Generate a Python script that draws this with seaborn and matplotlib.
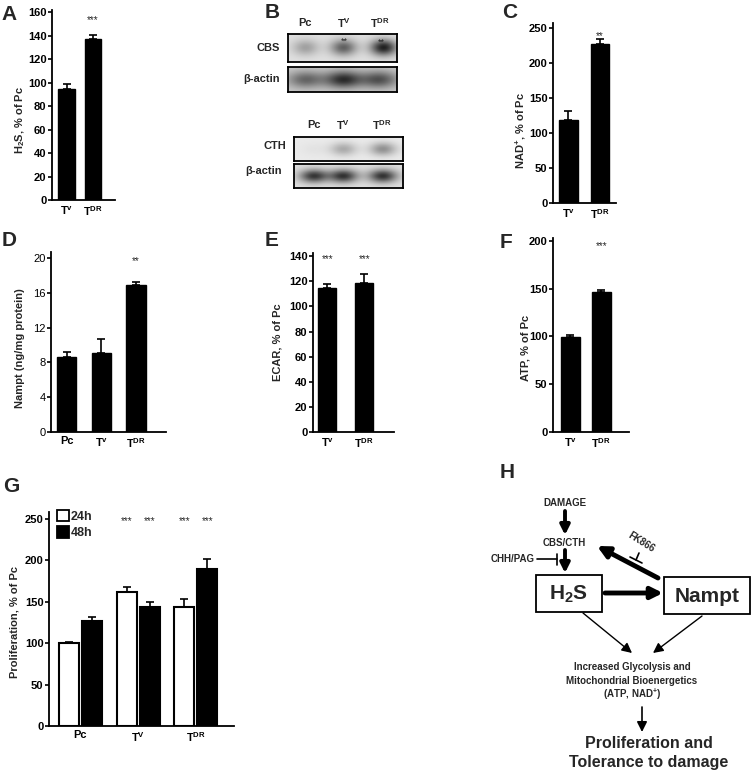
import numpy as np
import pandas as pd
import matplotlib
matplotlib.use('Agg')
import matplotlib.pyplot as plt
import matplotlib.transforms as mtransforms
from matplotlib.patches import Rectangle
import seaborn as sns

sns.set_theme(style='ticks')
plt.rcParams['font.family'] = ['Liberation Sans', 'DejaVu Sans']
plt.rcParams['font.weight'] = 'bold'
plt.rcParams['axes.labelweight'] = 'bold'
plt.rcParams['mathtext.fontset'] = 'custom'
plt.rcParams['mathtext.rm'] = 'Liberation Sans:bold'
plt.rcParams['mathtext.it'] = 'Liberation Sans:bold'
plt.rcParams['mathtext.bf'] = 'Liberation Sans:bold'

# ---------------- data ----------------
TV = r'T$^{\mathregular{v}}$'
TVc = r'T$^{\mathregular{V}}$'
TDR = r'T$^{\mathregular{DR}}$'

a_cats = [TV, TDR]
a_vals = [95, 137]
a_err = [4, 4]

c_cats = [TV, TDR]
c_vals = [118, 227]
c_err = [14, 7]

d_cats = ['Pc', TV, TDR]
d_vals = [8.6, 9.1, 16.9]
d_err = [0.6, 1.6, 0.4]

e_cats = [TV, TDR]
e_vals = [115, 119]
e_err = [3, 7]

f_cats = [TV, TDR]
f_vals = [99, 147]
f_err = [3, 2]

g_cats = ['Pc', TVc, TDR]
g_times = ['24h', '48h']
g_24 = [100, 162, 144]
g_24err = [1.5, 6, 9]
g_48 = [126, 143, 189]
g_48err = [6, 6, 12]

blot_lanes = ['Pc', TVc, TDR]
cbs_band = [0.25, 0.50, 0.75]
actin1_band = [0.40, 0.62, 0.48]
cth_band = [0.03, 0.25, 0.35]
actin2_band = [0.66, 0.68, 0.68]

# ---------------- figure ----------------
W, H = 754, 773
fig = plt.figure(figsize=(W / 100, H / 100), dpi=100)
PX = mtransforms.Affine2D().scale(1 / W, -1 / H).translate(0, 1) + fig.transFigure


def px_axes(x0, x1, y_top, y_bot):
    return fig.add_axes([x0 / W, 1 - y_bot / H, (x1 - x0) / W, (y_bot - y_top) / H])


def style_axis(ax, tick_weight='bold'):
    sns.despine(ax=ax)
    for s in ['left', 'bottom']:
        ax.spines[s].set_linewidth(1.3)
        ax.spines[s].set_color('black')
    ax.tick_params(axis='y', length=3, width=1.2, labelsize=8, pad=1, colors='black')
    ax.tick_params(axis='x', length=0, labelsize=8, pad=3, colors='black')
    for t in ax.get_yticklabels():
        t.set_fontweight(tick_weight)
    for t in ax.get_xticklabels():
        t.set_fontweight('bold')


def bar_panel(rect, cats, vals, errs, width, xlim, ymax, yticks, ylabel, lab_xy,
              stars=None, star_y=None, tick_weight='bold'):
    ax = px_axes(*rect)
    df = pd.DataFrame({'grp': cats, 'val': vals})
    sns.barplot(data=df, x='grp', y='val', color='black', saturation=1, width=width,
                errorbar=None, edgecolor='black', ax=ax)
    ax.errorbar(np.arange(len(vals)), vals, yerr=[np.zeros(len(vals)), errs], fmt='none',
                ecolor='black', elinewidth=1.2, capsize=3, capthick=1.2)
    ax.set_xlim(*xlim)
    ax.set_ylim(0, ymax)
    ax.set_yticks(yticks)
    ax.set_xlabel('')
    ax.set_ylabel(ylabel, fontsize=8, fontweight='bold')
    ax.yaxis.set_label_coords(lab_xy[0], lab_xy[1], transform=PX)
    style_axis(ax, tick_weight)
    if stars:
        for i, s in enumerate(stars):
            if s:
                ax.text(i, star_y, s, ha='center', va='center', fontsize=7,
                        fontweight='normal')
    return ax


# A
bar_panel((52, 115, 10, 200), a_cats, a_vals, a_err, 0.62, (-0.55, 1.83), 162,
          range(0, 161, 20), r'H$_{\mathregular{2}}$S, % of Pc', (27, 120),
          stars=['', '***'], star_y=153)
# C
bar_panel((553, 616, 23, 203), c_cats, c_vals, c_err, 0.59, (-0.49, 1.51), 257,
          range(0, 251, 50), r'NAD$^{\mathregular{+}}$, % of Pc', (528, 130),
          stars=['', '**'], star_y=238)
# D
bar_panel((51, 166, 252, 432), d_cats, d_vals, d_err, 0.56, (-0.45, 2.86), 20.7,
          range(0, 21, 4), 'Nampt (ng/mg protein)', (25, 348),
          stars=['', '', '**'], star_y=19.7, tick_weight='normal')
# E
bar_panel((313, 394, 253, 432), e_cats, e_vals, e_err, 0.49, (-0.39, 1.80), 142.5,
          range(0, 141, 20), 'ECAR, % of Pc', (282, 342),
          stars=['***', '***'], star_y=138)
# F
bar_panel((553, 629, 238, 432), f_cats, f_vals, f_err, 0.61, (-0.56, 1.89), 203,
          range(0, 201, 50), 'ATP, % of Pc', (530, 348),
          stars=['', '***'], star_y=195)

# G
axg = px_axes(49, 234, 512, 726)
dfg = pd.DataFrame({'grp': g_cats * 2,
                    'time': [g_times[0]] * 3 + [g_times[1]] * 3,
                    'val': g_24 + g_48})
sns.barplot(data=dfg, x='grp', y='val', hue='time', palette={'24h': 'white', '48h': 'black'},
            saturation=1, width=0.8, gap=0.13, errorbar=None, edgecolor='black',
            linewidth=1.5, ax=axg)
xg = np.arange(3)
axg.errorbar(xg - 0.2, g_24, yerr=[np.zeros(3), g_24err], fmt='none', ecolor='black',
             elinewidth=1.2, capsize=3, capthick=1.2)
axg.errorbar(xg + 0.2, g_48, yerr=[np.zeros(3), g_48err], fmt='none', ecolor='black',
             elinewidth=1.2, capsize=3, capthick=1.2)
axg.set_xlim(-0.545, 2.66)
axg.set_ylim(0, 258)
axg.set_yticks(range(0, 251, 50))
axg.set_xlabel('')
axg.set_ylabel('Proliferation, % of Pc', fontsize=8, fontweight='bold')
axg.yaxis.set_label_coords(20, 622, transform=PX)
style_axis(axg)
for i in [1, 2]:
    for off in (-0.2, 0.2):
        axg.text(i + off, 247, '***', ha='center', va='center', fontsize=7,
                 fontweight='normal')
leg = axg.legend(loc='upper left', bbox_to_anchor=(0.045, 1.01), frameon=False, fontsize=9,
                 handlelength=0.95, handleheight=1.0, handletextpad=0.1, labelspacing=0.3,
                 borderaxespad=0, borderpad=0)
for t in leg.get_texts():
    t.set_fontweight('bold')
for p in leg.get_patches():
    p.set_linewidth(1.3)


# ---------------- Western blots (B) ----------------
def blot(rect, centers, intens, sig_x=0.10, sig_y=0.28, bg=0.88):
    ax = px_axes(*rect)
    xx = np.linspace(0, 1, 160)
    yy = np.linspace(0, 1, 40)
    X, Y = np.meshgrid(xx, yy)
    img = np.full_like(X, bg)
    for c, v in zip(centers, intens):
        img -= v * np.exp(-((X - c) / sig_x) ** 2) * np.exp(-((Y - 0.5) / sig_y) ** 2)
    ax.imshow(img, cmap='gray', vmin=0, vmax=1, extent=[0, 1, 0, 1], aspect='auto',
              interpolation='bilinear')
    ax.set_xticks([])
    ax.set_yticks([])
    for s in ax.spines.values():
        s.set_linewidth(1.3)
        s.set_color('black')
        s.set_visible(True)
    return ax


blot((288, 397, 34, 62), [0.16, 0.51, 0.88], cbs_band, sig_x=0.12)
blot((288, 397, 67, 92), [0.16, 0.51, 0.84], actin1_band, sig_x=0.17, sig_y=0.35, bg=0.8)
blot((294, 403, 137, 161), [0.18, 0.45, 0.81], cth_band, sig_x=0.12, bg=0.92)
blot((294, 403, 164, 188), [0.18, 0.45, 0.81], actin2_band, sig_x=0.13)

# ---------------- overlay: letters, labels, diagram ----------------
ov = fig.add_axes([0, 0, 1, 1])
ov.set_xlim(0, W)
ov.set_ylim(H, 0)
ov.axis('off')
ov.patch.set_alpha(0)

for letter, (x, y) in {'A': (9, 15), 'B': (272, 12), 'C': (510, 13), 'D': (9, 241),
                       'E': (272, 241), 'F': (506, 242), 'G': (11, 487), 'H': (507, 473)}.items():
    ov.text(x, y, letter, fontsize=15, fontweight='bold', ha='center', va='center')

# blot labels
for lab, x in zip(blot_lanes, [305, 344, 380]):
    ov.text(x, 23, lab, fontsize=8, ha='center', va='center')
for lab, x in zip(blot_lanes, [314, 343, 382]):
    ov.text(x, 125, lab, fontsize=8, ha='center', va='center')
ov.text(280, 48, 'CBS', fontsize=8, ha='right', va='center')
ov.text(280, 79, 'β-actin', fontsize=8, ha='right', va='center')
ov.text(286, 146, 'CTH', fontsize=8, ha='right', va='center')
ov.text(282, 171, 'β-actin', fontsize=8, ha='right', va='center')
ov.text(344, 41, '**', fontsize=6.5, ha='center', va='center', fontweight='normal')
ov.text(381, 42, '**', fontsize=6.5, ha='center', va='center', fontweight='normal')


# diagram H
def arrow(p0, p1, lw, ms):
    ov.annotate('', xy=p1, xytext=p0,
                arrowprops=dict(arrowstyle='-|>', lw=lw, color='black', mutation_scale=ms,
                                shrinkA=0, shrinkB=0))


ov.text(565, 503, 'DAMAGE', fontsize=7, ha='center', va='center')
arrow((565, 511), (565, 535), 2.8, 14)
ov.text(564, 543, 'CBS/CTH', fontsize=7, ha='center', va='center')
arrow((565, 550), (565, 573), 2.8, 14)
ov.text(535, 559, 'CHH/PAG', fontsize=7, ha='right', va='center')
ov.plot([537, 557], [559, 559], color='black', lw=1.2)
ov.plot([557, 557], [554, 565], color='black', lw=1.2)

ov.add_patch(Rectangle((536, 575), 66, 37, fill=False, lw=1.3, ec='black'))
ov.text(569, 594, r'H$_{\mathregular{2}}$S', fontsize=15, ha='center', va='center')
ov.add_patch(Rectangle((664, 577), 86, 37, fill=False, lw=1.3, ec='black'))
ov.text(707, 596, 'Nampt', fontsize=15, ha='center', va='center')

arrow((605, 593), (663, 593), 3.5, 17)
arrow((658, 578), (597, 546), 3.5, 17)
ov.text(641, 542, 'FK866', fontsize=7, ha='center', va='center', rotation=-32)
ov.plot([639, 636], [553, 560], color='black', lw=1.2)
ov.plot([630, 642], [557, 563], color='black', lw=1.2)

arrow((583, 613), (632, 653), 1.0, 15)
arrow((702, 616), (653, 653), 1.0, 15)

ov.text(632, 667, 'Increased Glycolysis and', fontsize=7, ha='center', va='center')
ov.text(632, 681, 'Mitochondrial Bioenergetics', fontsize=7, ha='center', va='center')
ov.text(632, 694, r'(ATP, NAD$^{\mathregular{+}}$)', fontsize=7, ha='center', va='center')
arrow((642, 707), (642, 732), 1.2, 15)
ov.text(649, 744, 'Proliferation and', fontsize=11.5, ha='center', va='center')
ov.text(649, 762, 'Tolerance to damage', fontsize=11.5, ha='center', va='center')

fig.savefig('out.png', dpi=100)
